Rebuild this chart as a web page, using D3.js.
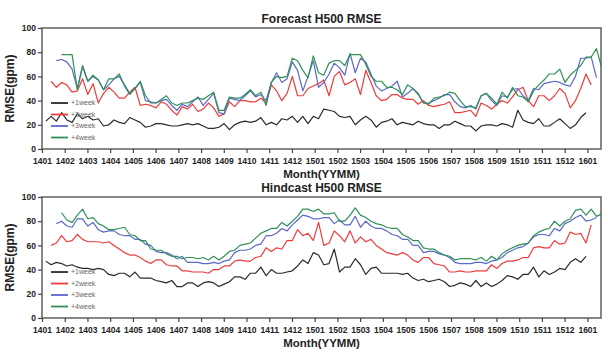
<!DOCTYPE html>
<html>
<head>
<meta charset="utf-8">
<script src="https://cdn.jsdelivr.net/npm/d3@7"></script>
<style>
  body { margin: 0; background: #fff; }
  text { font-family: "Liberation Sans", Arial, sans-serif; }
</style>
</head>
<body>
<div id="chart"></div>
<script>
// tick labels (YYMM), one per month starting at 1401
const monthLabels = ["1401","1402","1403","1404","1405","1406","1407","1408","1409","1410","1411","1412",
  "1501","1502","1503","1504","1505","1506","1507","1508","1509","1510","1511","1512","1601"];
const yTicks = [0, 20, 40, 60, 80, 100];
const seriesNames = ["+1week", "+2week", "+3week", "+4week"];
const seriesColors = ["#2b2b2b", "#ef3b3b", "#5b68c9", "#2e9157"];

// weekly values, first point ~0.17 month after 1401, each lead shifted one week later
const firstWeek = 0.17;
const weekStep = 12 / 52;

const forecastW1 = [23,27,23,30,24,22,29,25,27,24,
  25,19,20,24,22,21,26,24,22,18,
  19,21,21,20,19,19,20,21,20,21,
  19,17,17,18,21,16,20,22,23,22,
  23,26,20,22,20,25,24,27,22,27,
  21,27,25,33,32,31,27,26,27,20,
  24,27,24,18,22,23,25,20,22,21,
  20,23,21,20,20,17,20,20,23,21,
  19,19,15,19,20,20,19,21,20,18,
  32,24,22,21,25,19,19,22,25,21,
  17,20,26,30];
const forecastW2 = [56,51,55,53,47,48,58,45,54,38,
  46,51,47,42,42,47,51,36,37,36,
  34,39,37,32,28,35,33,37,31,33,
  38,34,27,29,39,35,40,40,39,39,
  42,38,53,48,40,46,60,44,44,50,
  52,54,57,44,60,64,53,55,58,45,
  65,55,44,40,41,45,45,42,41,41,
  37,40,36,35,36,37,39,30,30,31,
  32,27,38,36,33,37,40,38,43,49,
  51,40,35,44,44,40,44,50,46,34,
  40,50,62,53];
const forecastW3 = [73,74,72,66,50,69,56,60,57,49,
  53,58,60,53,46,50,55,40,39,38,
  40,41,36,32,37,35,39,43,36,41,
  46,30,29,42,41,40,44,48,43,45,
  40,55,63,55,58,72,65,48,60,73,
  51,55,62,71,67,61,79,63,75,72,
  62,52,48,50,52,56,43,46,50,46,
  38,38,40,42,45,45,39,35,34,36,
  33,44,46,40,36,44,43,49,50,44,
  40,50,49,54,55,56,55,53,52,60,
  75,75,76,59];
const forecastW4 = [78,78,78,49,68,56,61,57,49,58,
  58,62,52,45,50,56,44,38,38,41,
  44,38,36,38,38,40,42,41,44,47,
  32,32,43,42,42,45,49,44,47,36,
  55,60,59,60,75,73,65,59,77,63,
  61,71,73,73,69,78,78,78,70,60,
  56,56,51,51,49,45,53,50,45,38,
  37,42,43,44,47,46,40,35,35,34,
  44,46,42,37,47,42,51,44,43,39,
  48,53,57,62,62,66,55,61,65,69,
  76,76,83,67];

const hindcastW1 = [47,44,46,45,43,44,42,41,41,40,
  41,40,36,35,37,37,34,38,33,33,
  33,31,30,29,31,26,26,29,29,26,
  29,30,29,26,28,30,34,34,32,37,
  37,42,35,40,37,37,38,39,43,48,
  45,54,52,44,45,57,38,42,42,49,
  44,36,41,42,37,37,37,37,36,37,
  33,31,32,30,31,32,30,26,27,29,
  28,26,31,26,29,26,28,31,35,34,
  32,36,36,42,34,39,36,38,41,40,
  46,49,46,51];
const hindcastW2 = [60,62,68,63,64,69,65,63,63,63,
  62,63,60,57,54,52,52,50,47,45,
  48,48,44,43,43,39,39,38,38,38,
  37,40,40,43,43,47,48,47,47,50,
  51,58,55,58,57,64,64,73,68,70,
  64,79,60,62,72,68,63,72,62,67,
  63,65,60,57,54,53,52,54,52,48,
  46,50,50,45,44,43,38,38,39,38,
  38,39,39,39,44,41,45,47,47,48,
  50,50,58,59,58,58,64,61,62,71,
  69,70,62,77];
const hindcastW3 = [78,80,76,75,82,82,76,79,73,71,
  72,72,69,68,68,65,65,61,60,55,
  54,54,52,49,51,46,46,46,45,45,
  46,45,47,48,54,56,56,57,60,61,
  68,68,70,74,72,77,81,85,84,82,
  82,83,83,78,81,77,77,84,75,80,
  76,74,74,72,69,68,65,65,60,60,
  54,55,55,53,52,50,46,45,45,45,
  46,46,45,47,48,50,54,56,58,59,
  62,67,69,69,68,74,72,78,80,83,
  85,80,81,83];
const hindcastW4 = [87,81,79,85,90,82,83,78,76,73,
  73,74,75,69,68,64,64,57,56,56,
  53,51,51,49,50,50,49,50,48,51,
  48,51,55,56,60,61,62,66,70,72,
  74,74,79,76,80,84,90,90,88,90,
  86,86,87,80,80,85,91,85,83,80,
  78,77,75,74,74,69,67,64,64,58,
  57,57,54,52,51,48,49,49,49,48,
  50,47,51,48,53,56,58,60,61,62,
  68,71,73,74,80,76,80,82,89,90,
  85,90,84,86];

const svg = d3.select("#chart").append("svg")
  .attr("width", 608)
  .attr("height", 353);

const left = 42, right = 601;

function drawPanel(id, title, series, top, bottom) {
  const g = svg.append("g");

  const x = d3.scaleLinear().domain([0, 24.6]).range([left, right]);
  const y = d3.scaleLinear().domain([0, 100]).range([bottom, top]);

  g.append("clipPath").attr("id", id)
    .append("rect")
    .attr("x", left).attr("y", top)
    .attr("width", right - left).attr("height", bottom - top);

  // lines
  const line = d3.line()
    .x(d => x(d.t))
    .y(d => y(d.v));

  series.forEach((vals, k) => {
    const pts = vals.map((v, i) => ({ t: firstWeek + (k + i) * weekStep, v: v }));
    g.append("path")
      .datum(pts)
      .attr("clip-path", `url(#${id})`)
      .attr("fill", "none")
      .attr("stroke", seriesColors[k])
      .attr("stroke-width", 1.2)
      .attr("stroke-linejoin", "round")
      .attr("d", line);
  });

  // frame
  g.append("rect")
    .attr("x", left).attr("y", top)
    .attr("width", right - left).attr("height", bottom - top)
    .attr("fill", "none")
    .attr("stroke", "#555")
    .attr("stroke-width", 1.4);

  // axes
  const yAxis = g.append("g")
    .attr("transform", `translate(${left},0)`)
    .call(d3.axisLeft(y).tickValues(yTicks).tickSize(4).tickPadding(2));
  const xAxis = g.append("g")
    .attr("transform", `translate(0,${bottom})`)
    .call(d3.axisBottom(x).tickValues(d3.range(monthLabels.length))
      .tickFormat(i => monthLabels[i]).tickSize(4).tickPadding(5));

  [yAxis, xAxis].forEach(a => {
    a.select(".domain").remove();
    a.selectAll(".tick line").attr("stroke", "#444").attr("stroke-width", 1.2);
    a.selectAll("text")
      .attr("fill", "#222")
      .style("font-size", "8.5px")
      .style("font-weight", "bold");
  });

  // title
  g.append("text")
    .attr("x", (left + right) / 2)
    .attr("y", top - 5)
    .attr("text-anchor", "middle")
    .attr("fill", "#222")
    .style("font-size", "12px")
    .style("font-weight", "bold")
    .text(title);

  // x label
  g.append("text")
    .attr("x", (left + right) / 2)
    .attr("y", bottom + 29)
    .attr("text-anchor", "middle")
    .attr("fill", "#222")
    .style("font-size", "11.5px")
    .style("font-weight", "bold")
    .text("Month(YYMM)");

  // y label
  g.append("text")
    .attr("transform", `translate(14,${(top + bottom) / 2}) rotate(-90)`)
    .attr("text-anchor", "middle")
    .attr("fill", "#222")
    .style("font-size", "12px")
    .style("font-weight", "bold")
    .text("RMSE(gpm)");

  // legend
  const leg = g.append("g");
  seriesNames.forEach((name, k) => {
    const ly = y(38) + k * 11.5;
    leg.append("line")
      .attr("x1", 51).attr("x2", 68)
      .attr("y1", ly).attr("y2", ly)
      .attr("stroke", seriesColors[k])
      .attr("stroke-width", 1.8);
    leg.append("text")
      .attr("x", 71)
      .attr("y", ly)
      .attr("dy", "0.35em")
      .attr("fill", "#666")
      .style("font-size", "7px")
      .text(name);
  });
}

drawPanel("clipF", "Forecast H500 RMSE", [forecastW1, forecastW2, forecastW3, forecastW4], 28, 149);
drawPanel("clipH", "Hindcast H500 RMSE", [hindcastW1, hindcastW2, hindcastW3, hindcastW4], 197, 318);
</script>
</body>
</html>
